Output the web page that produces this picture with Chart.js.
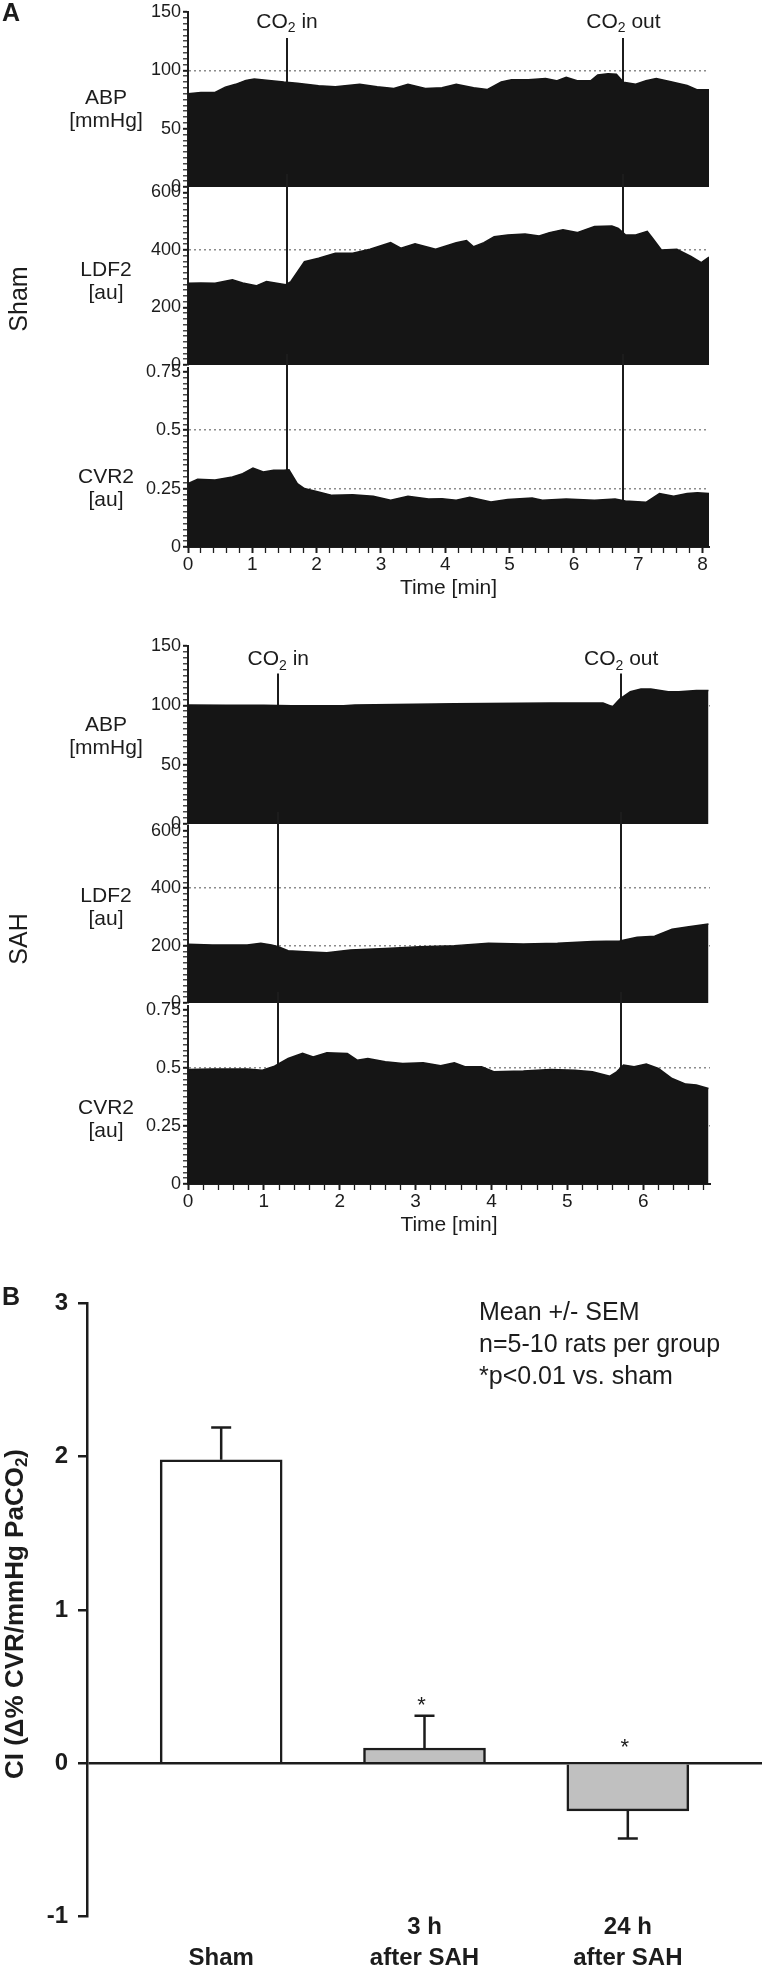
<!DOCTYPE html>
<html>
<head>
<meta charset="utf-8">
<script src="https://cdn.jsdelivr.net/npm/chart.js@4.4.0/dist/chart.umd.min.js"></script>
<style>
  html, body { margin: 0; padding: 0; background: #fff; }
  #page { position: relative; width: 762px; height: 1973px; overflow: hidden; background: #fff; }
  #page canvas { position: absolute; left: 0; }
</style>
</head>
<body>
<div id="page"></div>
<script>
// ---- values ----
// Sham recordings (time in min)
const shamAbpT = [0, 0.2, 0.42, 0.58, 0.74, 0.9, 1.03, 1.22, 1.49, 1.7, 2.03, 2.29, 2.67, 2.94, 3.2, 3.42, 3.69, 3.95, 4.17, 4.44, 4.65, 4.87, 5.03, 5.29, 5.56, 5.73, 5.88, 6.05, 6.26, 6.37, 6.53, 6.66, 6.77, 6.96, 7.12, 7.28, 7.49, 7.76, 7.92, 8.1];
const shamAbp  = [80, 81, 81, 85.6, 88, 91.4, 92.5, 91.4, 89.9, 89, 86.8, 86, 88, 86, 84.5, 88, 84.5, 85, 88, 85, 83.5, 90, 92, 92, 93, 91, 94, 91, 91, 96, 97, 96.6, 89.7, 88, 91, 93, 90.5, 87, 83.3, 83.3];
const shamLdfT = [0, 0.2, 0.42, 0.69, 0.85, 1.06, 1.22, 1.38, 1.52, 1.6, 1.81, 2.03, 2.29, 2.56, 2.83, 3.15, 3.31, 3.53, 3.85, 4.17, 4.33, 4.44, 4.6, 4.76, 4.97, 5.24, 5.46, 5.62, 5.83, 6.05, 6.32, 6.59, 6.69, 6.8, 6.96, 7.14, 7.22, 7.36, 7.6, 7.82, 7.98, 8.1];
const shamLdf  = [284, 285, 284, 296, 285, 275, 290, 284, 279, 290, 359, 371, 388, 388, 402, 425, 406, 421, 402, 425, 432, 411, 425, 446, 452, 455, 448, 460, 470, 460, 481, 483, 475, 452, 452, 464, 441, 400, 402, 377, 356, 375];
const shamCvrT = [0, 0.15, 0.42, 0.69, 0.85, 1.01, 1.17, 1.33, 1.49, 1.57, 1.7, 1.81, 2.03, 2.24, 2.56, 2.88, 3.15, 3.42, 3.74, 3.95, 4.17, 4.38, 4.71, 4.97, 5.35, 5.51, 5.88, 6.32, 6.64, 6.8, 7.12, 7.33, 7.55, 7.76, 7.92, 8.1];
const shamCvr  = [0.271, 0.29, 0.287, 0.30, 0.314, 0.338, 0.321, 0.328, 0.328, 0.33, 0.271, 0.25, 0.235, 0.221, 0.224, 0.217, 0.20, 0.217, 0.205, 0.206, 0.20, 0.213, 0.193, 0.203, 0.21, 0.20, 0.205, 0.20, 0.205, 0.197, 0.191, 0.229, 0.217, 0.229, 0.232, 0.229];
const shamEvents = [1.54, 6.77];

// SAH recordings (time in min)
const sahAbpT = [0, 0.5, 1.0, 1.37, 2.05, 2.2, 3.51, 4.78, 5.47, 5.56, 5.6, 5.69, 5.83, 5.97, 6.1, 6.33, 6.47, 6.7, 6.86];
const sahAbp  = [100.2, 100, 100, 99.6, 99.6, 100.2, 101.3, 101.9, 101.9, 99.6, 99.0, 105.3, 111.5, 113.8, 113.8, 111.5, 111.5, 112.4, 112.4];
const sahLdfT = [0, 0.32, 0.78, 0.96, 1.1, 1.19, 1.32, 1.55, 1.83, 2.14, 2.6, 3.05, 3.51, 3.96, 4.42, 4.87, 5.33, 5.69, 5.92, 6.15, 6.38, 6.6, 6.86];
const sahLdf  = [204.5, 202, 202, 208, 202, 196, 182, 179, 175, 185, 190, 196, 200, 208, 206, 208, 214, 216, 229, 233, 257, 266, 275];
const sahCvrT = [0, 0.32, 0.78, 0.98, 1.14, 1.32, 1.51, 1.65, 1.83, 2.1, 2.23, 2.37, 2.6, 2.83, 3.1, 3.33, 3.51, 3.65, 3.87, 4.03, 4.42, 4.78, 5.1, 5.33, 5.56, 5.65, 5.74, 5.88, 6.04, 6.2, 6.38, 6.56, 6.7, 6.86];
const sahCvr  = [0.493, 0.495, 0.495, 0.49, 0.507, 0.54, 0.562, 0.547, 0.565, 0.562, 0.533, 0.54, 0.526, 0.519, 0.522, 0.509, 0.522, 0.505, 0.505, 0.483, 0.486, 0.493, 0.49, 0.483, 0.464, 0.483, 0.512, 0.505, 0.516, 0.497, 0.454, 0.43, 0.426, 0.411];
const sahEvents = [1.19, 5.71];

const eventNames = ["in", "out"];
const abpTicks = [0, 50, 100, 150];
const ldfTicks = [0, 200, 400, 600];
const cvrTicks = [0, 0.25, 0.5, 0.75];
const shamTimeTicks = [0, 1, 2, 3, 4, 5, 6, 7, 8];
const sahTimeTicks = [0, 1, 2, 3, 4, 5, 6];

// Panel B
const ciCategories = [["", "Sham"], ["3 h", "after SAH"], ["24 h", "after SAH"]];
const ciMeans = [1.98, 0.10, -0.31];
const ciSem = [0.21, 0.21, 0.18];
const ciStars = [null, 0.41, 0.13];
const ciTicks = [-1, 0, 1, 2, 3];
const ciNotes = ["Mean +/- SEM", "n=5-10 rats per group", "*p<0.01 vs. sham"];

// ---- drawing ----
const page = document.getElementById("page");
const FONT = '"Liberation Sans", Arial, Helvetica, sans-serif';
const INK = "#1c1c1c";
const FILL = "#151515";
const PLOT_LEFT = 188;

Chart.defaults.font.family = FONT;
Chart.defaults.color = INK;

function makeCanvas(top, height) {
  const c = document.createElement("canvas");
  c.width = 762;
  c.height = height;
  c.style.top = top + "px";
  c.style.width = "762px";
  c.style.height = height + "px";
  page.appendChild(c);
  return c;
}

function drawCO2(ctx, word, cx, cy, size) {
  const big = size + "px " + FONT;
  const small = Math.round(size * 0.66) + "px " + FONT;
  ctx.save();
  ctx.fillStyle = INK;
  ctx.textBaseline = "middle";
  ctx.textAlign = "left";
  ctx.font = big;
  const w1 = ctx.measureText("CO").width;
  const w3 = ctx.measureText(" " + word).width;
  ctx.font = small;
  const w2 = ctx.measureText("2").width;
  let x = cx - (w1 + w2 + w3) / 2;
  ctx.font = big;
  ctx.fillText("CO", x, cy);
  x += w1;
  ctx.font = small;
  ctx.fillText("2", x, cy + size * 0.3);
  x += w2;
  ctx.font = big;
  ctx.fillText(" " + word, x, cy);
  ctx.restore();
}

function tracePanel(p) {
  const padTop = 14;
  const axisH = p.timeTicks ? 54 : 0;
  const padBottom = p.timeTicks ? 0 : 14;
  const cTop = p.plotTop - padTop;
  const height = Math.round(p.plotBottom - cTop + axisH + padBottom);
  const canvas = makeCanvas(cTop, height);

  const topTick = p.ticks[p.ticks.length - 1];
  const isMajor = v => p.ticks.some(m => Math.abs(m - v) < 1e-9);
  const yVals = [];
  for (let i = 0; i <= Math.round(topTick / p.minorStep); i++) yVals.push(+(i * p.minorStep).toFixed(4));
  const xVals = [];
  for (let i = 0; i <= Math.floor(p.xMax / 0.2 + 1e-9); i++) xVals.push(+(i * 0.2).toFixed(2));

  new Chart(canvas, {
    type: "line",
    data: {
      datasets: [{
        data: p.t.map((x, i) => ({ x: x, y: p.v[i] })),
        fill: "origin",
        backgroundColor: FILL,
        borderColor: FILL,
        borderWidth: 1.5,
        pointRadius: 0,
        tension: 0
      }]
    },
    options: {
      responsive: false,
      animation: false,
      devicePixelRatio: 1,
      events: [],
      layout: { padding: { left: 0, right: 762 - p.plotRight, top: padTop, bottom: padBottom } },
      plugins: { legend: { display: false }, tooltip: { enabled: false } },
      scales: {
        x: {
          type: "linear",
          min: 0,
          max: p.xMax,
          display: !!p.timeTicks,
          afterBuildTicks: s => { s.ticks = xVals.map(v => ({ value: v })); },
          afterFit: s => { s.height = axisH; },
          ticks: {
            autoSkip: false,
            maxRotation: 0,
            padding: 0,
            font: { size: 19 },
            color: INK,
            callback: v => (p.timeTicks || []).some(m => Math.abs(m - v) < 1e-9) ? String(Math.round(v)) : ""
          },
          grid: {
            drawOnChartArea: false,
            tickLength: 6,
            tickColor: INK,
            tickWidth: c => (p.timeTicks || []).some(m => Math.abs(m - c.tick.value) < 1e-9) ? 2 : 1.3
          },
          border: { display: true, color: INK, width: 2 },
          title: { display: true, text: "Time [min]", font: { size: 21 }, color: INK, padding: 0 }
        },
        y: {
          min: 0,
          max: p.yMax,
          afterBuildTicks: s => { s.ticks = yVals.map(v => ({ value: v })); },
          afterFit: s => { s.width = PLOT_LEFT; },
          ticks: {
            autoSkip: false,
            padding: 2,
            font: { size: 18 },
            color: INK,
            callback: v => isMajor(v) ? String(+v.toFixed(3)) : ""
          },
          grid: {
            drawOnChartArea: true,
            color: c => p.refLines.some(r => Math.abs(r - c.tick.value) < 1e-9) ? "#8c8c8c" : "rgba(0,0,0,0)",
            lineWidth: 1.6,
            tickLength: 5,
            tickColor: INK,
            tickWidth: c => isMajor(c.tick.value) ? 2 : 1.2
          },
          border: { display: true, color: INK, width: 2, dash: [2, 3] }
        }
      }
    },
    plugins: [{
      id: "panelDecor",
      beforeDatasetsDraw(chart) {
        const { ctx, chartArea, scales } = chart;
        ctx.save();
        ctx.strokeStyle = INK;
        ctx.lineWidth = 2;
        p.events.forEach(t => {
          const x = Math.round(scales.x.getPixelForValue(t));
          const y0 = p.eventTop != null ? p.eventTop - cTop : 0;
          ctx.beginPath();
          ctx.moveTo(x, y0);
          ctx.lineTo(x, chartArea.bottom);
          ctx.stroke();
        });
        ctx.restore();
      },
      afterDraw(chart) {
        const { ctx, scales } = chart;
        ctx.save();
        ctx.fillStyle = INK;
        ctx.textAlign = "center";
        ctx.textBaseline = "middle";
        ctx.font = "21px " + FONT;
        p.label.forEach((line, i) => ctx.fillText(line, 106, p.labelY - cTop + i * 23));
        if (p.eventLabelY != null) {
          p.events.forEach((t, i) => drawCO2(ctx, eventNames[i], scales.x.getPixelForValue(t), p.eventLabelY - cTop, 21));
        }
        if (p.group) {
          ctx.save();
          ctx.font = "25px " + FONT;
          ctx.translate(20, p.group.y - cTop);
          ctx.rotate(-Math.PI / 2);
          ctx.fillText(p.group.text, 0, 0);
          ctx.restore();
        }
        if (p.letter) {
          ctx.font = "bold 25px " + FONT;
          ctx.textAlign = "left";
          ctx.fillText(p.letter, 2, 14 - cTop);
        }
        ctx.restore();
      }
    }]
  });
}

// Sham
tracePanel({ t: shamAbpT, v: shamAbp, events: shamEvents, plotTop: 12, plotBottom: 187, plotRight: 709, xMax: 8.1,
  yMax: 150, ticks: abpTicks, minorStep: 5, refLines: [100], label: ["ABP", "[mmHg]"], labelY: 98,
  eventTop: 38, eventLabelY: 22, letter: "A" });
tracePanel({ t: shamLdfT, v: shamLdf, events: shamEvents, plotTop: 188, plotBottom: 365, plotRight: 709, xMax: 8.1,
  yMax: 615, ticks: ldfTicks, minorStep: 20, refLines: [200, 400], label: ["LDF2", "[au]"], labelY: 270,
  group: { text: "Sham", y: 299 } });
tracePanel({ t: shamCvrT, v: shamCvr, events: shamEvents, plotTop: 368, plotBottom: 547, plotRight: 709, xMax: 8.1,
  yMax: 0.766, ticks: cvrTicks, minorStep: 0.025, refLines: [0.25, 0.5], label: ["CVR2", "[au]"], labelY: 477,
  timeTicks: shamTimeTicks });

// SAH
tracePanel({ t: sahAbpT, v: sahAbp, events: sahEvents, plotTop: 645.5, plotBottom: 823.5, plotRight: 710, xMax: 6.88,
  yMax: 150, ticks: abpTicks, minorStep: 5, refLines: [100], label: ["ABP", "[mmHg]"], labelY: 725,
  eventTop: 673, eventLabelY: 659 });
tracePanel({ t: sahLdfT, v: sahLdf, events: sahEvents, plotTop: 826, plotBottom: 1003, plotRight: 710, xMax: 6.88,
  yMax: 617, ticks: ldfTicks, minorStep: 20, refLines: [200, 400], label: ["LDF2", "[au]"], labelY: 896,
  group: { text: "SAH", y: 939 } });
tracePanel({ t: sahCvrT, v: sahCvr, events: sahEvents, plotTop: 1006, plotBottom: 1184, plotRight: 710, xMax: 6.88,
  yMax: 0.766, ticks: cvrTicks, minorStep: 0.025, refLines: [0.25, 0.5], label: ["CVR2", "[au]"], labelY: 1108,
  timeTicks: sahTimeTicks });

// Panel B: bar chart
(function () {
  const cTop = 1240;
  const canvas = makeCanvas(cTop, 1973 - cTop);
  new Chart(canvas, {
    type: "bar",
    data: {
      datasets: [{
        data: ciMeans.map((y, i) => ({ x: i, y: y })),
        backgroundColor: ["#ffffff", "#c0c0c0", "#c0c0c0"],
        borderColor: INK,
        borderWidth: 2.5,
        borderSkipped: "start",
        barThickness: 122
      }]
    },
    options: {
      responsive: false,
      animation: false,
      devicePixelRatio: 1,
      events: [],
      layout: { padding: { left: 0, right: 0, top: 63.4, bottom: 0 } },
      plugins: { legend: { display: false }, tooltip: { enabled: false } },
      scales: {
        x: {
          type: "linear",
          offset: false,
          min: -0.66,
          max: 2.66,
          afterBuildTicks: s => { s.ticks = ciCategories.map((_, i) => ({ value: i })); },
          afterFit: s => { s.height = 56.4; },
          ticks: {
            autoSkip: false,
            maxRotation: 0,
            padding: -5,
            font: { size: 24, weight: "bold", lineHeight: 1.3 },
            color: INK,
            callback: v => ciCategories[v]
          },
          grid: { display: false, drawTicks: false },
          border: { display: false }
        },
        y: {
          min: -1,
          max: 3,
          afterBuildTicks: s => { s.ticks = ciTicks.map(v => ({ value: v })); },
          afterFit: s => { s.width = 87; },
          ticks: { padding: 10, font: { size: 24, weight: "bold" }, color: INK },
          grid: {
            color: c => c.tick.value === 0 ? INK : "rgba(0,0,0,0)",
            lineWidth: 2.5,
            tickColor: INK,
            tickLength: 9,
            tickWidth: 2.5
          },
          border: { display: true, color: INK, width: 2.5 }
        }
      }
    },
    plugins: [{
      id: "ciDecor",
      afterDatasetsDraw(chart) {
        const { ctx, scales } = chart;
        ctx.save();
        ctx.strokeStyle = INK;
        ctx.lineWidth = 2.5;
        ciMeans.forEach((m, i) => {
          const x = scales.x.getPixelForValue(i);
          const sign = m >= 0 ? 1 : -1;
          const y0 = scales.y.getPixelForValue(m);
          const y1 = scales.y.getPixelForValue(m + sign * ciSem[i]);
          ctx.beginPath();
          ctx.moveTo(x, y0);
          ctx.lineTo(x, y1);
          ctx.moveTo(x - 10, y1);
          ctx.lineTo(x + 10, y1);
          ctx.stroke();
        });
        ctx.fillStyle = INK;
        ctx.textAlign = "center";
        ctx.textBaseline = "middle";
        ctx.font = "22px " + FONT;
        ciStars.forEach((s, i) => {
          if (s == null) return;
          ctx.fillText("*", scales.x.getPixelForValue(i) - 3, scales.y.getPixelForValue(s) + 5);
        });
        ctx.restore();
      },
      afterDraw(chart) {
        const { ctx } = chart;
        ctx.save();
        ctx.fillStyle = INK;
        ctx.textBaseline = "middle";
        ctx.textAlign = "left";
        ctx.font = "bold 25px " + FONT;
        ctx.fillText("B", 2, 1298 - cTop);
        ctx.font = "25px " + FONT;
        ciNotes.forEach((n, i) => ctx.fillText(n, 479, 1313 - cTop + i * 32));
        // rotated y title with subscript
        ctx.translate(16, 1614 - cTop);
        ctx.rotate(-Math.PI / 2);
        const big = "bold 26px " + FONT, small = "bold 17px " + FONT;
        const a = "CI (\u0394% CVR/mmHg PaCO", b = "2", c = ")";
        ctx.font = big;
        const wa = ctx.measureText(a).width, wc = ctx.measureText(c).width;
        ctx.font = small;
        const wb = ctx.measureText(b).width;
        let x = -(wa + wb + wc) / 2;
        ctx.font = big;
        ctx.fillText(a, x, 0);
        x += wa;
        ctx.font = small;
        ctx.fillText(b, x, 6);
        x += wb;
        ctx.font = big;
        ctx.fillText(c, x, 0);
        ctx.restore();
      }
    }]
  });
})();
</script>
</body>
</html>
